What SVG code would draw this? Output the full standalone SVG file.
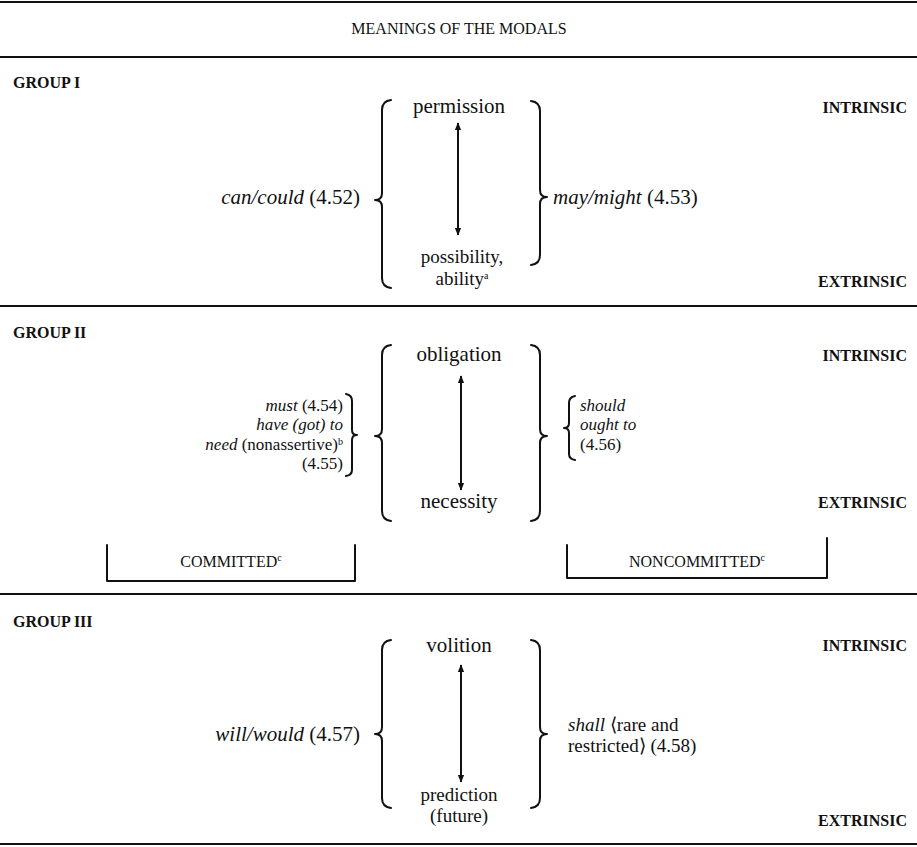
<svg xmlns="http://www.w3.org/2000/svg" width="917" height="847" viewBox="0 0 917 847">
<defs>
<style>
text{font-family:"Liberation Serif","Times New Roman",serif;fill:#111}
.lab{font-size:16px;font-weight:bold}
.cap{font-size:16px}
.b{font-size:21px}
.s{font-size:19px}
.st{font-size:17px}
.it{font-style:italic}
.mid{text-anchor:middle}
.end{text-anchor:end}
.sup{font-size:10px}
.rule{stroke:#111;stroke-width:2}
.br{fill:none;stroke:#111;stroke-width:2;stroke-linejoin:round;stroke-linecap:round}
.arr{stroke:#111;stroke-width:2}
</style>
<marker id="ah" viewBox="0 0 10 10" refX="9" refY="5" markerWidth="8" markerHeight="8" orient="auto-start-reverse" markerUnits="userSpaceOnUse"><path d="M0,1 L10,5 L0,9 z" fill="#111"/></marker>
</defs>
<rect width="917" height="847" fill="#fff"/>
<g id="rules">
<line class="rule" x1="0" y1="2" x2="917" y2="2"/>
<line class="rule" x1="0" y1="57" x2="917" y2="57"/>
<line class="rule" x1="0" y1="306" x2="917" y2="306"/>
<line class="rule" x1="0" y1="594" x2="917" y2="594"/>
<line class="rule" x1="0" y1="844" x2="917" y2="844"/>
</g>
<g id="title"><text class="cap mid" x="459" y="34">MEANINGS OF THE MODALS</text></g>

<g id="group1">
<text class="lab" x="13" y="88">GROUP I</text>
<text class="lab end" x="907" y="113">INTRINSIC</text>
<text class="lab end" x="907" y="287">EXTRINSIC</text>
<path class="br" d="M391,100 Q382,101 382,110 L382,193 Q382,200 375,200 Q382,200 382,207 L382,278 Q382,287 391,288"/>
<path class="br" d="M531,101 Q540,102 540,111 L540,190 Q540,197 547,197 Q540,197 540,204 L540,255 Q540,264 531,265"/>
<text class="b mid" x="459" y="113">permission</text>
<text class="s mid" x="462" y="263">possibility,</text>
<text class="s mid" x="462" y="285">ability<tspan class="sup" dy="-6">a</tspan></text>
<text class="b end" x="360" y="204"><tspan class="it">can/could</tspan> (4.52)</text>
<text class="b" x="553" y="204"><tspan class="it">may/might</tspan> (4.53)</text>
</g>

<g id="group2">
<text class="lab" x="13" y="338">GROUP II</text>
<text class="lab end" x="907" y="361">INTRINSIC</text>
<text class="lab end" x="907" y="508">EXTRINSIC</text>
<path class="br" d="M391,345 Q382,346 382,355 L382,429 Q382,436 375,436 Q382,436 382,443 L382,511 Q382,520 391,521"/>
<path class="br" d="M531,345 Q540,346 540,355 L540,429 Q540,436 547,436 Q540,436 540,443 L540,511 Q540,520 531,521"/>
<path class="br" d="M346,394 Q352,395 352,401 L352,430 Q352,435 357,435 Q352,435 352,440 L352,470 Q352,475 346,476"/>
<path class="br" d="M575,396 Q569,397 569,403 L569,423 Q569,428 564,428 Q569,428 569,433 L569,454 Q569,459 575,460"/>
<text class="b mid" x="459" y="361">obligation</text>
<text class="b mid" x="459" y="508">necessity</text>
<text class="st end" x="343" y="411"><tspan class="it">must</tspan> (4.54)</text>
<text class="st end it" x="343" y="430">have (got) to</text>
<text class="st end" x="343" y="450"><tspan class="it">need</tspan> (nonassertive)<tspan class="sup" dy="-5">b</tspan></text>
<text class="st end" x="343" y="469">(4.55)</text>
<text class="st it" x="580" y="411">should</text>
<text class="st it" x="580" y="430">ought to</text>
<text class="st" x="580" y="450">(4.56)</text>
</g>

<g id="committed">
<path class="br" d="M107,545 L107,581 L355,581 L355,545"/>
<text class="cap mid" x="231" y="567">COMMITTED<tspan class="sup" dy="-6">c</tspan></text>
</g>
<g id="noncommitted">
<path class="br" d="M567,545 L567,578 L827,578 L827,538"/>
<text class="cap mid" x="697" y="567">NONCOMMITTED<tspan class="sup" dy="-6">c</tspan></text>
</g>

<g id="group3">
<text class="lab" x="13" y="627">GROUP III</text>
<text class="lab end" x="907" y="651">INTRINSIC</text>
<text class="lab end" x="907" y="826">EXTRINSIC</text>
<path class="br" d="M391,640 Q382,641 382,650 L382,727 Q382,734 375,734 Q382,734 382,741 L382,798 Q382,807 391,808"/>
<path class="br" d="M531,640 Q540,641 540,650 L540,727 Q540,734 547,734 Q540,734 540,741 L540,798 Q540,807 531,808"/>
<text class="b mid" x="459" y="652">volition</text>
<text class="s mid" x="459" y="801">prediction</text>
<text class="s mid" x="459" y="822">(future)</text>
<text class="b end" x="360" y="741"><tspan class="it">will/would</tspan> (4.57)</text>
<text class="s" x="568" y="731"><tspan class="it">shall</tspan> ⟨rare and</text>
<text class="s" x="568" y="752">restricted⟩ (4.58)</text>
</g>

<g id="connectors">
<line class="arr" x1="458" y1="123" x2="458" y2="235" marker-start="url(#ah)" marker-end="url(#ah)"/>
<line class="arr" x1="461" y1="376" x2="461" y2="490" marker-start="url(#ah)" marker-end="url(#ah)"/>
<line class="arr" x1="461" y1="665" x2="461" y2="782" marker-start="url(#ah)" marker-end="url(#ah)"/>
</g>
</svg>
